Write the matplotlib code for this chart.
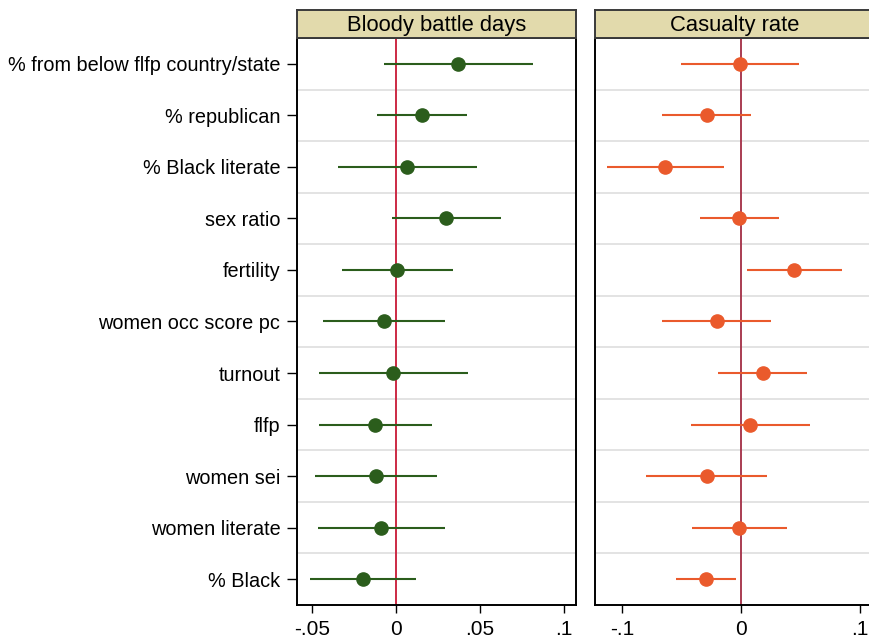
import matplotlib
matplotlib.use("Agg")
import matplotlib.pyplot as plt
from matplotlib.ticker import FixedLocator

plt.rcParams['font.family'] = ['Liberation Sans', 'DejaVu Sans']

# Variables, top to bottom
labels = ["% from below flfp country/state", "% republican", "% Black literate",
          "sex ratio", "fertility", "women occ score pc", "turnout", "flfp",
          "women sei", "women literate", "% Black"]

# Bloody battle days: point estimate, lower, upper
bbd_coef = [0.0369, 0.0153, 0.0065, 0.0300, 0.0006, -0.0071, -0.0016, -0.0125, -0.0120, -0.0090, -0.0198]
bbd_lo = [-0.0071, -0.0115, -0.0343, -0.0024, -0.0323, -0.0433, -0.0456, -0.0458, -0.0480, -0.0464, -0.0512]
bbd_hi = [0.0815, 0.0420, 0.0484, 0.0623, 0.0341, 0.0290, 0.0427, 0.0212, 0.0244, 0.0290, 0.0119]

# Casualty rate: point estimate, lower, upper
cas_coef = [-0.0008, -0.0289, -0.0639, -0.0014, 0.0448, -0.0204, 0.0182, 0.0078, -0.0286, -0.0017, -0.0297]
cas_lo = [-0.0507, -0.0660, -0.1123, -0.0342, 0.0053, -0.0660, -0.0193, -0.0423, -0.0800, -0.0410, -0.0546]
cas_hi = [0.0487, 0.0081, -0.0146, 0.0317, 0.0849, 0.0250, 0.0557, 0.0580, 0.0220, 0.0387, -0.0045]

bbd_ticks = [-0.05, 0, 0.05, 0.1]
bbd_ticklabels = ["-.05", "0", ".05", ".1"]
cas_ticks = [-0.1, 0, 0.1]
cas_ticklabels = ["-.1", "0", ".1"]

fig = plt.figure(figsize=(8.7, 6.43), dpi=100)

ypos = list(range(len(labels)))


def panel(left, title, coef, lo, hi, color, zcolor, xlim, ticks, ticklabels, show_y):
    ax = fig.add_axes([left, 0.0591, 0.3207, 0.8818])
    for y in [i + 0.5 for i in ypos[:-1]]:
        ax.axhline(y, color="#e0e0e0", lw=1.3, zorder=0)
    ax.axvline(0, color=zcolor, lw=1.4, zorder=1)
    ax.hlines(ypos, lo, hi, color=color, lw=1.5, zorder=2)
    ax.plot(coef, ypos, "o", color=color, ms=9.5, zorder=3)
    ax.set_xlim(*xlim)
    ax.set_ylim(len(labels) - 0.5, -0.5)
    ax.xaxis.set_major_locator(FixedLocator(ticks))
    ax.set_xticklabels(ticklabels, fontsize=15)
    ax.tick_params(axis="x", length=6, width=1, pad=5)
    if show_y:
        ax.set_yticks(ypos)
        ax.set_yticklabels(labels, fontsize=14.3)
        ax.tick_params(axis="y", length=7, width=1, pad=5)
    else:
        ax.set_yticks([])
    for s in ax.spines.values():
        s.set_linewidth(1.4)
        s.set_color("black")

    hax = fig.add_axes([left, 0.9409, 0.3207, 0.0435])
    hax.set_facecolor("#e2daac")
    hax.set_xticks([])
    hax.set_yticks([])
    for s in hax.spines.values():
        s.set_linewidth(1.4)
        s.set_color("#3a3a3a")
    hax.text(0.5, 0.45, title, ha="center", va="center", fontsize=15.8,
             transform=hax.transAxes)
    return ax


panel(0.3414, "Bloody battle days", bbd_coef, bbd_lo, bbd_hi, "#2b5d1c", "#cc2a44",
      (-0.0589, 0.1071), bbd_ticks, bbd_ticklabels, True)
panel(0.6839, "Casualty rate", cas_coef, cas_lo, cas_hi, "#ea5a2c", "#a93c52",
      (-0.1227, 0.1118), cas_ticks, cas_ticklabels, False)

fig.savefig("out.png", dpi=100)
